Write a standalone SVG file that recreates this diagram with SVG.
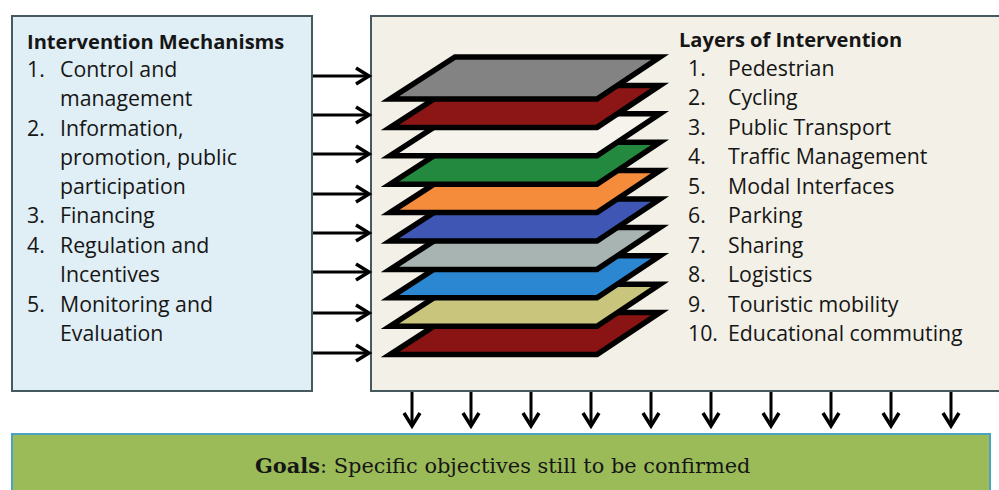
<svg xmlns="http://www.w3.org/2000/svg" width="999" height="490" viewBox="0 0 999 490">
<defs>
<style>
.box{stroke:#46595f;stroke-width:2}
.t{font-family:"Open Sans","Liberation Sans",sans-serif;font-size:21.3px;fill:#161616}
.b{font-weight:bold;font-size:20.1px}
.g{font-family:"DejaVu Serif","Liberation Serif",serif;font-size:20.9px;fill:#161616}
.conn{stroke:#000;stroke-width:3;fill:none}
.layer{stroke:#000;stroke-width:5.5;stroke-linejoin:miter;stroke-miterlimit:6}
</style>
<marker id="ah" markerUnits="userSpaceOnUse" markerWidth="20" markerHeight="20" viewBox="-16 -10 20 20" refX="0" refY="0" orient="auto">
<path d="M-13,-8 L0,0 L-13,8" fill="none" stroke="#000" stroke-width="3.5"/>
</marker>
</defs>
<rect width="999" height="490" fill="#ffffff"/>
<g id="mechanisms">
<rect class="box" x="12" y="16" width="300" height="375" fill="#e0eef5"/>
<text class="t b" x="27" y="49">Intervention Mechanisms</text>
<text class="t" x="27" y="77">1.</text><text class="t" x="60" y="77">Control and</text>
<text class="t" x="60" y="106">management</text>
<text class="t" x="27" y="136">2.</text><text class="t" x="60" y="136">Information,</text>
<text class="t" x="60" y="165">promotion, public</text>
<text class="t" x="60" y="194">participation</text>
<text class="t" x="27" y="223">3.</text><text class="t" x="60" y="223">Financing</text>
<text class="t" x="27" y="253">4.</text><text class="t" x="60" y="253">Regulation and</text>
<text class="t" x="60" y="282">Incentives</text>
<text class="t" x="27" y="312">5.</text><text class="t" x="60" y="312">Monitoring and</text>
<text class="t" x="60" y="341">Evaluation</text>
</g>
<g id="layers">
<rect class="box" x="371" y="16" width="640" height="375" fill="#f3f0e7"/>
<polygon class="layer" fill="#8a1414" points="455,312.6 660,312.6 597,354.6 390,354.6"/>
<polygon class="layer" fill="#c9c57c" points="455,284.2 660,284.2 597,326.2 390,326.2"/>
<polygon class="layer" fill="#2b87d2" points="455,255.8 660,255.8 597,297.8 390,297.8"/>
<polygon class="layer" fill="#a8b4b2" points="455,227.4 660,227.4 597,269.4 390,269.4"/>
<polygon class="layer" fill="#3f56b4" points="455,199 660,199 597,241 390,241"/>
<polygon class="layer" fill="#f48c3c" points="455,170.6 660,170.6 597,212.6 390,212.6"/>
<polygon class="layer" fill="#23893e" points="455,142.2 660,142.2 597,184.2 390,184.2"/>
<polygon class="layer" fill="#f6f3ec" points="455,113.8 660,113.8 597,155.8 390,155.8"/>
<polygon class="layer" fill="#8c1616" points="455,85.4 660,85.4 597,127.4 390,127.4"/>
<polygon class="layer" fill="#838383" points="455,57 660,57 597,99 390,99"/>
<text class="t b" x="679" y="47">Layers of Intervention</text>
<text class="t" x="688" y="76">1.</text><text class="t" x="728" y="76">Pedestrian</text>
<text class="t" x="688" y="105">2.</text><text class="t" x="728" y="105">Cycling</text>
<text class="t" x="688" y="135">3.</text><text class="t" x="728" y="135">Public Transport</text>
<text class="t" x="688" y="164">4.</text><text class="t" x="728" y="164">Traffic Management</text>
<text class="t" x="688" y="194">5.</text><text class="t" x="728" y="194">Modal Interfaces</text>
<text class="t" x="688" y="223">6.</text><text class="t" x="728" y="223">Parking</text>
<text class="t" x="688" y="253">7.</text><text class="t" x="728" y="253">Sharing</text>
<text class="t" x="688" y="282">8.</text><text class="t" x="728" y="282">Logistics</text>
<text class="t" x="688" y="312">9.</text><text class="t" x="728" y="312">Touristic mobility</text>
<text class="t" x="688" y="341">10.</text><text class="t" x="728" y="341">Educational commuting</text>
</g>
<g id="goals">
<rect x="12" y="434" width="978" height="70" fill="#9bbb59" stroke="#4aa3c2" stroke-width="2"/>
<text class="g" x="255" y="473"><tspan font-weight="bold">Goals</tspan>: Specific objectives still to be confirmed</text>
</g>
<g id="connectors">
<line class="conn" x1="313" y1="76" x2="369" y2="76" marker-end="url(#ah)"/>
<line class="conn" x1="313" y1="115" x2="369" y2="115" marker-end="url(#ah)"/>
<line class="conn" x1="313" y1="154" x2="369" y2="154" marker-end="url(#ah)"/>
<line class="conn" x1="313" y1="194" x2="369" y2="194" marker-end="url(#ah)"/>
<line class="conn" x1="313" y1="233" x2="369" y2="233" marker-end="url(#ah)"/>
<line class="conn" x1="313" y1="272" x2="369" y2="272" marker-end="url(#ah)"/>
<line class="conn" x1="313" y1="313" x2="369" y2="313" marker-end="url(#ah)"/>
<line class="conn" x1="313" y1="353" x2="369" y2="353" marker-end="url(#ah)"/>
<line class="conn" x1="412" y1="392" x2="412" y2="426" marker-end="url(#ah)"/>
<line class="conn" x1="471" y1="392" x2="471" y2="426" marker-end="url(#ah)"/>
<line class="conn" x1="531" y1="392" x2="531" y2="426" marker-end="url(#ah)"/>
<line class="conn" x1="591" y1="392" x2="591" y2="426" marker-end="url(#ah)"/>
<line class="conn" x1="651" y1="392" x2="651" y2="426" marker-end="url(#ah)"/>
<line class="conn" x1="711" y1="392" x2="711" y2="426" marker-end="url(#ah)"/>
<line class="conn" x1="771" y1="392" x2="771" y2="426" marker-end="url(#ah)"/>
<line class="conn" x1="831" y1="392" x2="831" y2="426" marker-end="url(#ah)"/>
<line class="conn" x1="891" y1="392" x2="891" y2="426" marker-end="url(#ah)"/>
<line class="conn" x1="951" y1="392" x2="951" y2="426" marker-end="url(#ah)"/>
</g>
</svg>
